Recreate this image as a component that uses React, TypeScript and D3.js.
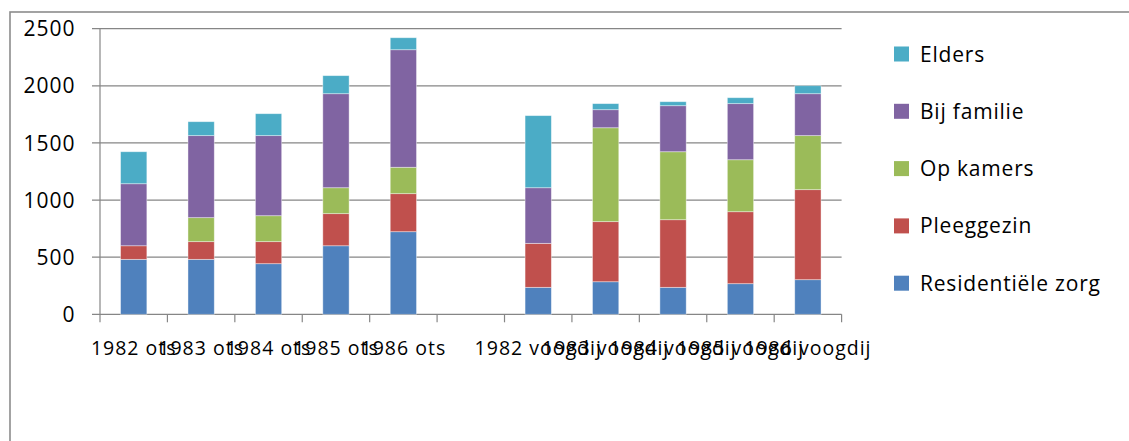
import React from "react";
import * as d3 from "d3";

const categories = [
  "1982 ots", "1983 ots", "1984 ots", "1985 ots", "1986 ots", "",
  "1982 voogdij", "1983 voogdij", "1984 voogdij", "1985 voogdij", "1986 voogdij",
];
const residentieleZorg = [481, 481, 443, 600, 723, 0, 236, 285, 236, 268, 303];
const pleeggezin = [119, 155, 193, 281, 333, 0, 385, 526, 592, 630, 788];
const opKamers = [0, 210, 227, 227, 231, 0, 0, 822, 595, 455, 473];
const bijFamilie = [543, 718, 701, 823, 1029, 0, 487, 158, 403, 491, 367];
const elders = [280, 122, 192, 158, 105, 0, 631, 53, 35, 52, 70];
const seriesNames = ["Residentiële zorg", "Pleeggezin", "Op kamers", "Bij familie", "Elders"];
const seriesColors = ["#4F81BD", "#C0504D", "#9BBB59", "#8064A2", "#4BACC6"];
const yTicks = [0, 500, 1000, 1500, 2000, 2500];

export default function App() {
  const W = 1129, H = 441;
  const left = 100, right = 841.6, top = 28.7, bottom = 314.3;
  const seriesValues = [residentieleZorg, pleeggezin, opKamers, bijFamilie, elders];
  const keys = categories.map((c, i) => (c === "" ? "__blank" + i : c));
  const x = d3.scaleBand<string>().domain(keys).range([left, right]).padding(0);
  const y = d3.scaleLinear().domain([0, 2500]).range([bottom, top]);
  const table = keys.map((k, i) => {
    const row: any = { key: k };
    seriesNames.forEach((s, j) => (row[s] = seriesValues[j][i]));
    return row;
  });
  const stacked = d3.stack<any>().keys(seriesNames)(table);
  const step = x.step();
  const bw = step * 0.39;
  const font = "'Open Sans', Lato, sans-serif";

  return (
    <svg width={W} height={H} style={{ position: "absolute", left: 0, top: 0, background: "#fff" }}>
      <rect x={10} y={12} width={1300} height={600} fill="none" stroke="#8c8c8c" strokeWidth={1.6} />
      {yTicks.map((t) => (
        <g key={t}>
          <line x1={left - 8} x2={right} y1={y(t)} y2={y(t)} stroke="#868686" strokeWidth={1.2} />
          <text x={75.5} y={y(t)} dy="0.36em" textAnchor="end" fontFamily={font} fontSize={21} letterSpacing={1} fill="#000">
            {t}
          </text>
        </g>
      ))}
      <line x1={left} x2={left} y1={top} y2={bottom} stroke="#868686" strokeWidth={1.2} />
      {stacked.map((layer, j) => (
        <g key={layer.key} fill={seriesColors[j]}>
          {layer.map((d, i) =>
            d[1] - d[0] > 0 ? (
              <rect
                key={i}
                x={(x(keys[i]) as number) + step / 2 - bw / 2}
                y={y(d[1])}
                width={bw}
                height={y(d[0]) - y(d[1])}
                stroke="#ffffff"
                strokeOpacity={0.5}
                strokeWidth={0.8}
              />
            ) : null
          )}
        </g>
      ))}
      {d3.range(keys.length + 1).map((i) => (
        <line key={i} x1={left + i * step} x2={left + i * step} y1={bottom} y2={bottom + 8} stroke="#868686" strokeWidth={1.2} />
      ))}
      {categories.map((c, i) => (
        <text key={i} x={(x(keys[i]) as number) + step / 2} y={355} textAnchor="middle" fontFamily={font} fontSize={19.5} letterSpacing={1} fill="#000">
          {c}
        </text>
      ))}
      {seriesNames
        .map((s, j) => ({ s, j }))
        .reverse()
        .map(({ s, j }, k) => (
          <g key={s} transform={`translate(894, ${54 + k * 57.3})`}>
            <rect x={0} y={-7.5} width={15} height={15} fill={seriesColors[j]} />
            <text x={26} y={0} dy="0.36em" fontFamily={font} fontSize={21} letterSpacing={0.8} fill="#000">
              {s}
            </text>
          </g>
        ))}
    </svg>
  );
}
